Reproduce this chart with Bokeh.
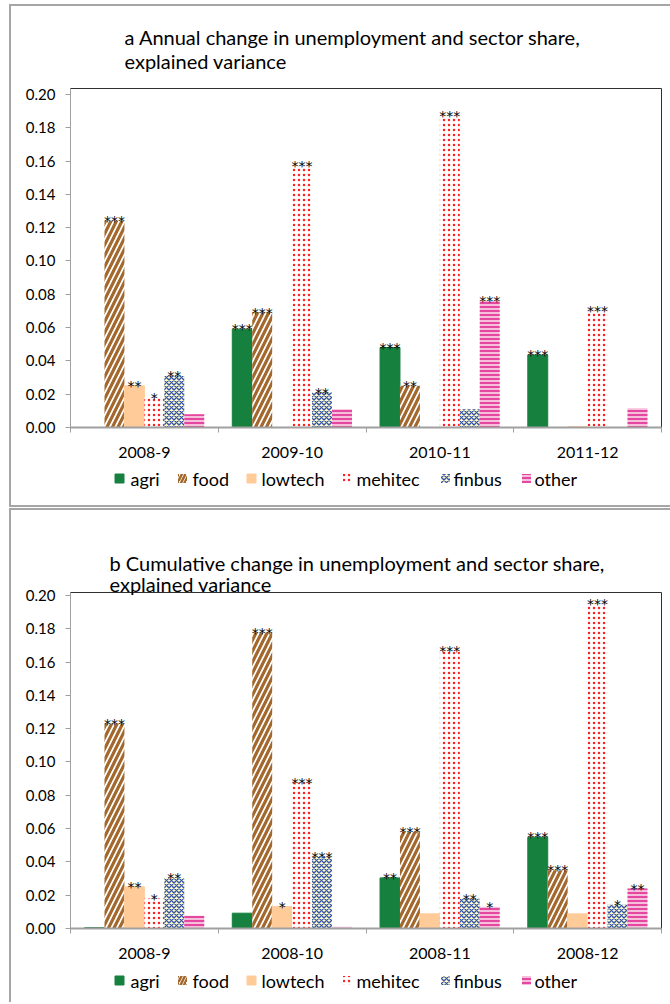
from bokeh.plotting import figure
from bokeh.models import (ColumnDataSource, FixedTicker, Range1d, NumeralTickFormatter, Title)
from bokeh.transform import dodge
from bokeh.layouts import column
from bokeh.embed import file_html
from bokeh.resources import INLINE
from bokeh.core.properties import value

# ---------------- data ----------------
series = ["agri", "food", "lowtech", "mehitec", "finbus", "other"]

cats_a = ["2008-9", "2009-10", "2010-11", "2011-12"]
agri_a = [0.0, 0.059, 0.048, 0.0435]
food_a = [0.124, 0.069, 0.025, 0.0]
lowtech_a = [0.025, 0.0, 0.0, 0.0005]
mehitec_a = [0.018, 0.157, 0.187, 0.070]
finbus_a = [0.031, 0.021, 0.011, 0.0]
other_a = [0.008, 0.011, 0.076, 0.0115]
agri_a_sig = ["", "***", "***", "***"]
food_a_sig = ["***", "***", "**", ""]
lowtech_a_sig = ["**", "", "", ""]
mehitec_a_sig = ["*", "***", "***", "***"]
finbus_a_sig = ["**", "**", "", ""]
other_a_sig = ["", "", "***", ""]

cats_b = ["2008-9", "2008-10", "2008-11", "2008-12"]
agri_b = [0.0005, 0.0092, 0.0304, 0.0548]
food_b = [0.123, 0.1776, 0.058, 0.035]
lowtech_b = [0.025, 0.0132, 0.0088, 0.0088]
mehitec_b = [0.018, 0.0876, 0.1666, 0.1946]
finbus_b = [0.0304, 0.043, 0.018, 0.0142]
other_b = [0.0076, 0.001, 0.013, 0.024]
agri_b_sig = ["", "", "**", "***"]
food_b_sig = ["***", "***", "***", "***"]
lowtech_b_sig = ["**", "*", "", ""]
mehitec_b_sig = ["*", "***", "***", "***"]
finbus_b_sig = ["**", "***", "**", "*"]
other_b_sig = ["", "", "*", "**"]

y_ticks = [0.0, 0.02, 0.04, 0.06, 0.08, 0.10, 0.12, 0.14, 0.16, 0.18, 0.20]

title_a = ["a Annual change in unemployment and sector share,", "explained variance"]
title_b = ["b Cumulative change in unemployment and sector share,", "explained variance"]

# ---------------- layout / styles ----------------
FONT = "Lato"
STYLES = {
    "agri": dict(fill_color="#16803f", line_color="#16803f"),
    "food": dict(fill_color="white", hatch_pattern="/", hatch_color="#a2682d",
                 hatch_scale=11, hatch_weight=3.2, line_color=None),
    "lowtech": dict(fill_color="#ffcc99", line_color="#ffcc99"),
    "mehitec": dict(fill_color="white", hatch_pattern=".", hatch_color="#ff2020",
                    hatch_scale=5, hatch_weight=2.8, line_color=None),
    "finbus": dict(fill_color="#fffdcc", hatch_pattern="x", hatch_color="#3553a8",
                   hatch_scale=5, hatch_weight=1.4, line_color=None),
    "other": dict(fill_color="#f7bedc", hatch_pattern="-", hatch_color="#e0288f",
                  hatch_scale=4, hatch_weight=1.6, line_color=None),
}
LEGEND_STYLES = dict(STYLES)
LEGEND_STYLES["food"] = dict(STYLES["food"], hatch_scale=7, hatch_weight=2.5)
BAR_W = 0.135
FIG_W = 659
FRAME_L = 59
FRAME_R = 650
LEG_ICON_X = [108, 171, 240, 336, 434, 515]
LEG_TEXT_X = [119, 181, 250, 345, 442, 523]
TITLE_A_X = 113
TITLE_A_Y = [30, 54]
BORDER = "2px solid #a6a6a6"


def set_standoff(t, v):
    try:
        t.standoff = v
    except Exception:
        t.standoff = 0


def base_fig(height, x_range, y_range):
    f = figure(width=FIG_W, height=height, output_backend="svg", toolbar_location=None,
               x_range=x_range, y_range=y_range)
    f.min_border_left = FRAME_L
    f.min_border_right = FIG_W - FRAME_R
    f.xgrid.visible = False
    f.ygrid.visible = False
    f.background_fill_color = "white"
    f.border_fill_color = "white"
    return f


def make_chart(cats, vals, sigs, title_lines, height, y_end, title_offset,
               border_top, standoff_low, standoff_up):
    n = len(cats)
    data = {"x": [i + 0.5 for i in range(n)]}
    for s, v, g in zip(series, vals, sigs):
        data[s] = v
        data[s + "_sig"] = g
    src = ColumnDataSource(data)

    p = base_fig(height, Range1d(0, n), Range1d(0, y_end))
    p.min_border_top = border_top
    p.min_border_bottom = 40
    p.outline_line_color = "#303030"
    p.outline_line_width = 1

    if title_lines:
        for k, line in enumerate(reversed(title_lines)):
            t = Title(text=line, align="left", offset=title_offset,
                      text_font=FONT, text_font_size="20px", text_font_style="normal",
                      text_color="#000000")
            set_standoff(t, standoff_low if k == 0 else standoff_up)
            p.add_layout(t, "above")

    yax = p.yaxis[0]
    yax.ticker = FixedTicker(ticks=y_ticks)
    yax.formatter = NumeralTickFormatter(format="0.00")
    yax.axis_line_color = "#a0a0a0"
    yax.major_tick_line_color = "#a0a0a0"
    yax.major_tick_out = 5
    yax.major_tick_in = 0
    yax.minor_tick_line_color = None
    yax.major_label_text_font = FONT
    yax.major_label_text_font_size = "15px"
    yax.major_label_text_color = "#000000"
    yax.major_label_standoff = 10

    xax = p.xaxis[0]
    xax.ticker = FixedTicker(ticks=data["x"], minor_ticks=list(range(n + 1)))
    xax.major_label_overrides = {x: c for x, c in zip(data["x"], cats)}
    xax.axis_line_color = "#a0a0a0"
    xax.axis_line_width = 2
    xax.major_tick_line_color = None
    xax.major_tick_out = 0
    xax.major_tick_in = 0
    xax.minor_tick_line_color = "#a0a0a0"
    xax.minor_tick_out = 5
    xax.minor_tick_in = 0
    xax.major_label_text_font = FONT
    xax.major_label_text_font_size = "16px"
    xax.major_label_text_color = "#000000"
    xax.major_label_standoff = 14

    for k, s in enumerate(series):
        off = (k - 2.5) * BAR_W
        p.vbar(x=dodge("x", off, range=p.x_range), top=s, width=BAR_W,
               source=src, **STYLES[s])
        p.text(x=dodge("x", off, range=p.x_range), y=s, text=s + "_sig", source=src,
               text_align="center", text_baseline="alphabetic", y_offset=0,
               text_font=value("DejaVu Sans"), text_font_size="14px",
               text_color="#000000")
    return p


def make_title_strip(lines, height, x, ys):
    # frame aligned with the chart frame; coordinates are canvas pixels
    q = base_fig(height, Range1d(FRAME_L, FRAME_R), Range1d(height, 0))
    q.min_border_top = 0
    q.min_border_bottom = 0
    q.axis.visible = False
    q.outline_line_color = None
    q.text(x=[x] * len(lines), y=ys, text=lines, text_baseline="middle",
           text_align="left", text_font=value(FONT), text_font_size="20px",
           text_color="#000000")
    return q


def make_legend(height, y_center):
    q = base_fig(height, Range1d(FRAME_L, FRAME_R), Range1d(height, 0))
    q.min_border_top = 0
    q.min_border_bottom = 0
    q.axis.visible = False
    q.outline_line_color = None
    for s, ix, tx in zip(series, LEG_ICON_X, LEG_TEXT_X):
        q.rect(x=[ix], y=[y_center], width=9, height=9, **LEGEND_STYLES[s])
        q.text(x=[tx], y=[y_center], text=[s], text_baseline="middle",
               text_align="left", text_font=value(FONT), text_font_size="18px",
               text_color="#000000")
    return q


t1 = make_title_strip(title_a, 66, TITLE_A_X, TITLE_A_Y)
p1 = make_chart(cats_a, [agri_a, food_a, lowtech_a, mehitec_a, finbus_a, other_a],
                [agri_a_sig, food_a_sig, lowtech_a_sig, mehitec_a_sig, finbus_a_sig, other_a_sig],
                None, 395, 0.2036, 0, 16, 0, 0)
l1 = make_legend(38, 11)
p2 = make_chart(cats_b, [agri_b, food_b, lowtech_b, mehitec_b, finbus_b, other_b],
                [agri_b_sig, food_b_sig, lowtech_b_sig, mehitec_b_sig, finbus_b_sig, other_b_sig],
                title_b, 458, 0.2018, 39, 82, -7, -2)
l2 = make_legend(34, 12)

panel1 = column(t1, p1, l1, spacing=0,
                styles={"border-left": BORDER, "border-top": BORDER, "border-bottom": BORDER})
panel2 = column(p2, l2, spacing=0,
                styles={"border-left": BORDER, "border-top": BORDER})
layout = column(panel1, panel2, spacing=1,
                styles={"padding-left": "9px", "padding-top": "4px"})
open("out.html", "w").write(file_html(layout, INLINE))
